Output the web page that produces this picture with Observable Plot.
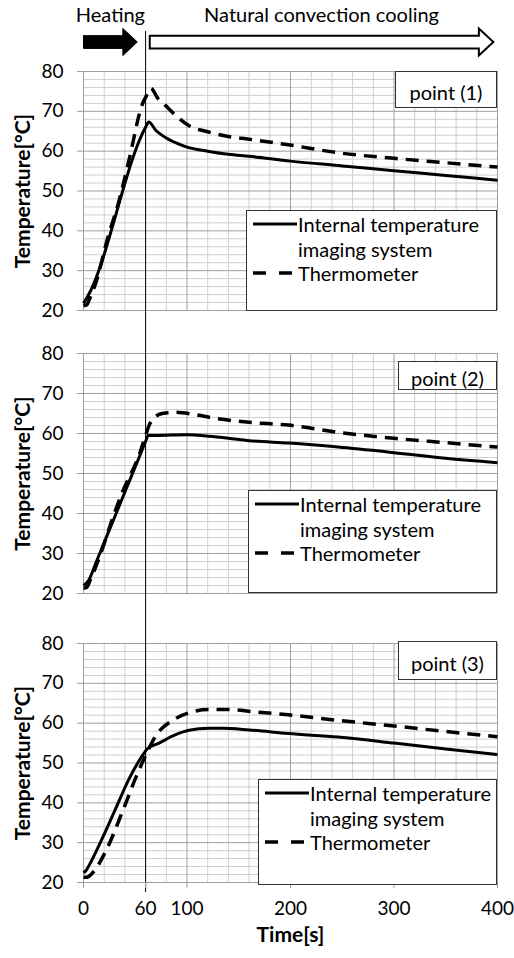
<!DOCTYPE html>
<html>
<head>
<meta charset="utf-8">
<script src="https://cdn.jsdelivr.net/npm/d3@7"></script>
<script src="https://cdn.jsdelivr.net/npm/@observablehq/plot@0.6"></script>
<style>
  body { margin: 0; background: #fff; font-family: Lato, "Open Sans", sans-serif; }
  #page { position: relative; width: 514px; height: 958px; overflow: hidden; background: #fff; }
  .panel { position: absolute; left: 0; }
  .box { position: absolute; background: #fff; border: 1px solid #333; box-sizing: border-box; color: #000; font-size: 20px; }
  .ptxt { position: absolute; left: 0; right: 0; text-align: center; line-height: 1; transform: translateY(-50%); }
  .ltxt { position: absolute; white-space: nowrap; line-height: 1; transform: translateY(-50%); }
  .lsample { position: absolute; }
</style>
</head>
<body>
<div id="page"></div>
<script>
// ---------------- DATA ----------------
const seriesNames = ["Internal temperature imaging system", "Thermometer"];
const legendLines = [["Internal temperature", "imaging system"], ["Thermometer"]];
const panelLabels = ["point (1)", "point (2)", "point (3)"];
const yTicks = [20, 30, 40, 50, 60, 70, 80];
const xTicks = [0, 60, 100, 200, 300, 400];
const xLabel = "Time[s]";
const yLabel = "Temperature[\u00B0C]";
const phaseLabels = ["Heating", "Natural convection cooling"];
const phaseStart = [0, 64];
const phaseEnd = [52, 396];
const heatingEnd = 60;

// point (1)
const p1ImgTime = [0, 4, 60, 63, 70, 80, 90, 100, 120, 140, 160, 200, 250, 300, 350, 400];
const p1ImgTemp = [21.8, 23.5, 66, 67.3, 65.2, 63.3, 62, 61, 60, 59.2, 58.7, 57.5, 56.3, 55.1, 53.9, 52.7];
const p1ThTime = [0, 3, 6, 12, 24, 34, 44, 57, 60, 65, 72, 79, 89, 102, 121, 140, 160, 198, 246, 300, 350, 400];
const p1ThTemp = [21.2, 21.4, 23, 27, 38.8, 47.2, 57.8, 71.9, 73.5, 75.8, 73.2, 71.5, 69, 66.4, 64.8, 63.7, 63, 61.6, 59.6, 58.2, 57.1, 56.0];

// point (2)
const p2ImgTime = [0, 5, 12, 25, 41, 54, 60, 62.5, 70, 100, 121, 140, 160, 198, 246, 300, 350, 400];
const p2ImgTemp = [22, 23.3, 27.7, 35.9, 46, 54.2, 58, 59.5, 59.5, 59.7, 59.3, 58.8, 58.2, 57.6, 56.6, 55.2, 53.8, 52.7];
const p2ThTime = [0, 3, 7, 16, 28, 37.5, 53.5, 60, 63, 66, 71, 76, 89, 108, 127, 160, 198, 246, 300, 350, 400];
const p2ThTemp = [21.3, 21.5, 23.7, 29.5, 38.7, 45.3, 54.5, 59.5, 61.8, 63.3, 64.5, 65, 65.3, 64.7, 63.8, 62.8, 62.1, 60.3, 58.8, 57.7, 56.6];

// point (3)
const p3ImgTime = [0, 3, 7, 18, 31, 44, 57, 61.5, 73, 89, 102, 121, 134, 160, 198, 246, 300, 350, 400];
const p3ImgTemp = [22.4, 23.2, 25.1, 31, 38.5, 46, 51.9, 53.5, 55, 57.1, 58.2, 58.7, 58.7, 58.3, 57.4, 56.5, 55, 53.5, 52.1];
const p3ThTime = [0, 3, 8, 21, 37.5, 50, 60, 70, 86, 102, 121, 143, 163, 198, 246, 300, 350, 400];
const p3ThTemp = [21.3, 21.3, 22.2, 27.6, 37.7, 46, 51.9, 56.9, 60.7, 62.6, 63.4, 63.4, 62.9, 62.1, 60.7, 59.3, 57.9, 56.6];

// ---------------- LAYOUT ----------------
const W = 514, ML = 83, MR = 17;
const FONT = "Lato, 'Open Sans', sans-serif";
const DASH = "13,8";
const layout = [
  {top: 0,   height: 331, mt: 71, mb: 21, ruleTopPx: 31, ruleBottomPx: 21, legend: [246, 210, 497, 311], point: [395, 71, 497, 108], series: [[p1ImgTime, p1ImgTemp], [p1ThTime, p1ThTemp]]},
  {top: 331, height: 282, mt: 22, mb: 20, ruleTopPx: 0,  ruleBottomPx: 20, legend: [248, 490, 497, 593], point: [398, 361, 497, 390], series: [[p2ImgTime, p2ImgTemp], [p2ThTime, p2ThTemp]]},
  {top: 613, height: 345, mt: 30, mb: 76, ruleTopPx: 0,  ruleBottomPx: 10, legend: [258, 779, 497, 885], point: [398, 641, 497, 680], series: [[p3ImgTime, p3ImgTemp], [p3ThTime, p3ThTemp]]},
];

const page = document.getElementById("page");
const minorY = d3.range(20, 81, 2).filter(v => v % 10 !== 0);
const minorX = d3.range(0, 401, 20).filter(v => v % 100 !== 0);
const majorX = [0, 100, 200, 300, 400];

layout.forEach((L, i) => {
  const plotH = L.height - L.mt - L.mb;
  const ppd = plotH / 60;
  const ruleY1 = 80 + (L.mt - L.ruleTopPx) / ppd;
  const ruleY2 = 20 - L.ruleBottomPx / ppd;
  const [img, th] = L.series;
  const marks = [
    Plot.ruleY(minorY, {stroke: "#cfcfcf", strokeWidth: 1}),
    Plot.ruleX(minorX, {stroke: "#cfcfcf", strokeWidth: 1}),
    Plot.ruleY(yTicks, {stroke: "#9f9f9f", strokeWidth: 1}),
    Plot.ruleX(majorX, {stroke: "#9f9f9f", strokeWidth: 1}),
    Plot.axisY({ticks: yTicks, tickSize: 6, tickPadding: 14, stroke: "#9f9f9f", fill: "#000", label: null, tickFormat: d => d, fontSize: 19}),
    Plot.text([yLabel], {frameAnchor: "left", textAnchor: "middle", dx: -60, rotate: -90, fontWeight: "bold", fontSize: 21, fill: "#000"}),
    Plot.line(img[0], {x: img[0], y: img[1], stroke: "#000", strokeWidth: 3, curve: "monotone-x", strokeLinecap: "butt"}),
    Plot.line(th[0], {x: th[0], y: th[1], stroke: "#000", strokeWidth: 3.5, curve: "monotone-x", strokeDasharray: DASH, strokeLinecap: "butt"}),
    Plot.ruleX([heatingEnd], {y1: ruleY1, y2: ruleY2, stroke: "#000", strokeWidth: 1})
  ];
  if (i === 2) {
    marks.push(Plot.axisX({ticks: xTicks, tickSize: 6, tickPadding: 13, stroke: "#9f9f9f", fill: "#000", label: null, tickFormat: d => d, fontSize: 19}));
    marks.push(Plot.text([xLabel], {frameAnchor: "bottom", dy: 59, fontWeight: "bold", fontSize: 21, fill: "#000"}));
  }
  if (i === 0) {
    // phase arrows above the first panel, built from the phase spans
    const yc = 87.4, sh = 1.6, hh = 3.4, hl = 14;
    phaseLabels.forEach((lab, k) => {
      const s = phaseStart[k], e = phaseEnd[k];
      const poly = [[s, yc + sh], [e - hl, yc + sh], [e - hl, yc + hh], [e, yc], [e - hl, yc - hh], [e - hl, yc - sh], [s, yc - sh], [s, yc + sh]];
      marks.push(Plot.line(poly, {x: d => d[0], y: d => d[1], fill: k === 0 ? "#000" : "#fff", stroke: "#000", strokeWidth: k === 0 ? 1 : 2, strokeLinejoin: "miter", strokeMiterlimit: 10, curve: "linear"}));
    });
    marks.push(Plot.text(phaseLabels, {x: (d, k) => (phaseStart[k] + phaseEnd[k]) / 2, y: 94.1, fontSize: 20, fill: "#000"}));
  }
  const chart = Plot.plot({
    width: W, height: L.height,
    marginLeft: ML, marginRight: MR, marginTop: L.mt, marginBottom: L.mb,
    x: {domain: [0, 400], axis: null},
    y: {domain: [20, 80], axis: null},
    style: {fontFamily: FONT, fontSize: "18px", background: "transparent", overflow: "visible", color: "#000"},
    marks
  });
  const wrap = document.createElement("div");
  wrap.className = "panel";
  wrap.style.top = L.top + "px";
  wrap.appendChild(chart);
  page.appendChild(wrap);

  // point label box
  const [px0, py0, px1, py1] = L.point;
  const pb = document.createElement("div");
  pb.className = "box";
  Object.assign(pb.style, {left: px0 + "px", top: py0 + "px", width: (px1 - px0) + "px", height: (py1 - py0) + "px"});
  const pt = document.createElement("div");
  pt.className = "ptxt";
  pt.textContent = panelLabels[i];
  pt.style.top = ((py1 - py0) / 2 + 1) + "px";
  pb.appendChild(pt);
  page.appendChild(pb);

  // legend box
  const [lx0, ly0, lx1, ly1] = L.legend;
  const lb = document.createElement("div");
  lb.className = "box";
  Object.assign(lb.style, {left: lx0 + "px", top: ly0 + "px", width: (lx1 - lx0) + "px", height: (ly1 - ly0) + "px"});
  const rows = [13, 38, 62];
  let r = 0;
  legendLines.forEach((lines, s) => {
    const sv = d3.create("svg").attr("class", "lsample").attr("width", 46).attr("height", 8)
      .style("left", "5px").style("top", (rows[r] - 4) + "px");
    sv.append("line").attr("x1", 1).attr("x2", 45).attr("y1", 4).attr("y2", 4)
      .attr("stroke", "#000").attr("stroke-width", s === 0 ? 3 : 3.5)
      .attr("stroke-dasharray", s === 0 ? null : "13,13");
    lb.appendChild(sv.node());
    lines.forEach(t => {
      const d = document.createElement("div");
      d.className = "ltxt";
      d.style.left = "51px";
      d.style.top = rows[r] + "px";
      d.textContent = t;
      lb.appendChild(d);
      r++;
    });
  });
  page.appendChild(lb);
});
</script>
</body>
</html>
